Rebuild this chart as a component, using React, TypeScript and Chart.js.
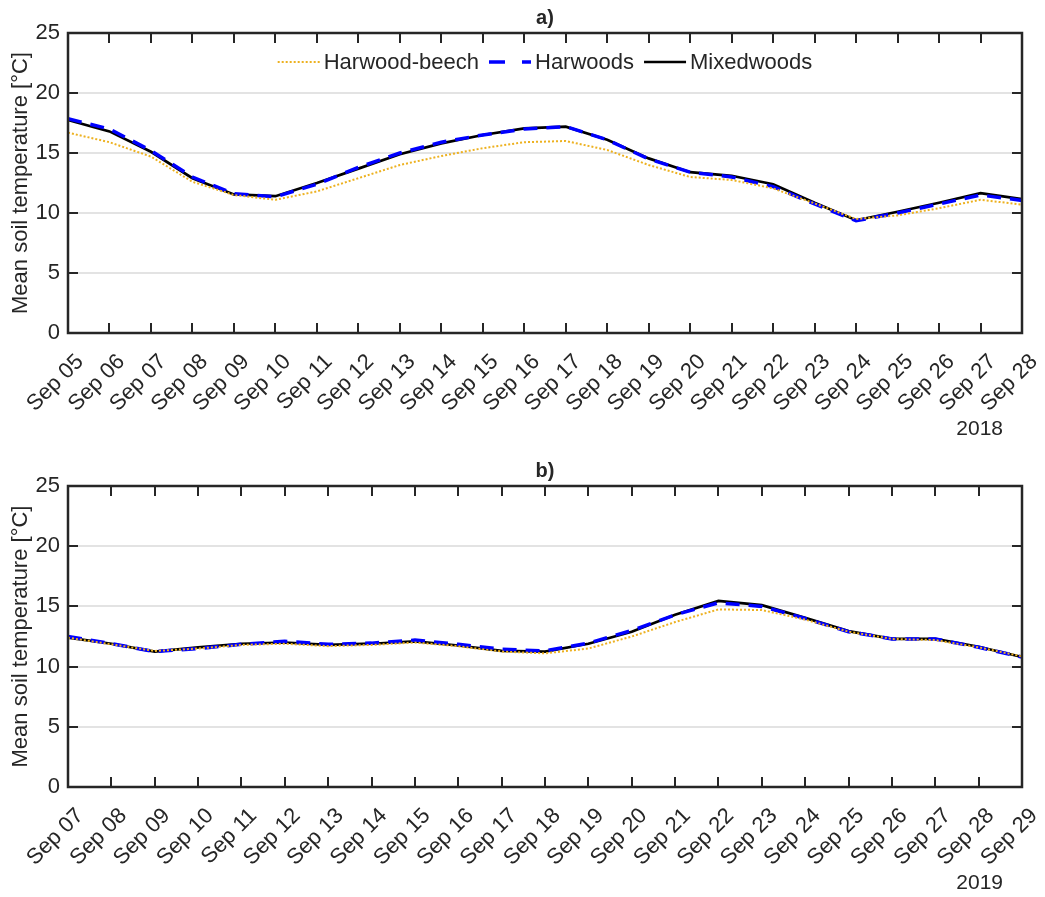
import React, { useEffect, useRef } from "react";
import { Chart, registerables } from "chart.js";

Chart.register(...registerables);

const labels2018 = ["Sep 05","Sep 06","Sep 07","Sep 08","Sep 09","Sep 10","Sep 11","Sep 12","Sep 13","Sep 14","Sep 15","Sep 16","Sep 17","Sep 18","Sep 19","Sep 20","Sep 21","Sep 22","Sep 23","Sep 24","Sep 25","Sep 26","Sep 27","Sep 28"];
const beech2018 = [16.7,15.9,14.7,12.6,11.5,11.1,11.8,12.9,14.0,14.75,15.4,15.9,16.0,15.25,14.0,13.0,12.75,12.05,10.8,9.5,9.8,10.4,11.1,10.7];
const hardwoods2018 = [17.85,17.0,15.2,13.0,11.6,11.35,12.4,13.8,15.0,15.9,16.5,17.0,17.2,16.1,14.5,13.4,13.0,12.2,10.75,9.35,10.0,10.75,11.5,11.05];
const mixed2018 = [17.75,16.8,15.1,12.9,11.55,11.4,12.5,13.7,14.9,15.8,16.5,17.05,17.2,16.1,14.55,13.4,13.1,12.4,10.85,9.4,10.1,10.85,11.65,11.15];

const labels2019 = ["Sep 07","Sep 08","Sep 09","Sep 10","Sep 11","Sep 12","Sep 13","Sep 14","Sep 15","Sep 16","Sep 17","Sep 18","Sep 19","Sep 20","Sep 21","Sep 22","Sep 23","Sep 24","Sep 25","Sep 26","Sep 27","Sep 28","Sep 29"];
const beech2019 = [12.4,11.85,11.3,11.5,11.8,11.9,11.7,11.8,12.0,11.7,11.25,11.1,11.5,12.5,13.7,14.75,14.7,13.9,12.9,12.3,12.2,11.6,10.85];
const hardwoods2019 = [12.5,11.9,11.25,11.5,11.85,12.1,11.85,11.95,12.2,11.85,11.45,11.3,11.95,13.0,14.3,15.3,15.0,14.0,12.9,12.3,12.3,11.6,10.8];
const mixed2019 = [12.4,11.9,11.25,11.6,11.9,12.0,11.8,11.9,12.1,11.75,11.3,11.25,11.9,12.9,14.3,15.45,15.1,14.05,12.95,12.3,12.3,11.65,10.8];

const yTicks = [0, 5, 10, 15, 20, 25];
const seriesNames = ["Harwood-beech", "Harwoods", "Mixedwoods"];

const FONT = "'Liberation Sans', Arial, Helvetica, sans-serif";
const TEXT = "#262626";
const AXIS = "#262626";
const ORANGE = "#EDB120";
const BLUE = "#0000FF";

function makeFramePlugin(title: string, year: string, showLegend: boolean) {
  return {
    id: "frame_" + title,
    afterDatasetsDraw(chart: any) {
      const ctx = chart.ctx;
      const { left, right, top, bottom } = chart.chartArea;
      const xs = chart.scales.x;
      const ys = chart.scales.y;
      ctx.save();
      ctx.strokeStyle = AXIS;
      ctx.lineWidth = 2;
      ctx.setLineDash([]);
      ctx.beginPath();
      for (let i = 0; i < xs.ticks.length; i++) {
        const x = Math.round(xs.getPixelForTick(i));
        ctx.moveTo(x, bottom);
        ctx.lineTo(x, bottom - 10);
        ctx.moveTo(x, top);
        ctx.lineTo(x, top + 10);
      }
      for (const v of yTicks) {
        const y = Math.round(ys.getPixelForValue(v));
        ctx.moveTo(left, y);
        ctx.lineTo(left + 10, y);
        ctx.moveTo(right, y);
        ctx.lineTo(right - 10, y);
      }
      ctx.stroke();
      ctx.lineWidth = 2.5;
      ctx.strokeRect(left, top, right - left, bottom - top);

      ctx.fillStyle = TEXT;
      ctx.font = "bold 20px " + FONT;
      ctx.textAlign = "center";
      ctx.textBaseline = "middle";
      ctx.fillText(title, (left + right) / 2, top - 15);

      ctx.font = "21px " + FONT;
      ctx.textAlign = "right";
      ctx.fillText(year, right - 19, bottom + 96);

      if (showLegend) {
        ctx.font = "22px " + FONT;
        const sample = 42;
        const gapText = 4;
        const gapItem = 10;
        const widths = seriesNames.map((n) => ctx.measureText(n).width);
        const total = widths.reduce((a, w) => a + sample + gapText + w, 0) + gapItem * (seriesNames.length - 1);
        let x = (left + right) / 2 - total / 2;
        const y = top + 29;
        const styles = [
          { color: ORANGE, dash: [2, 2], width: 2 },
          { color: BLUE, dash: [16, 17], width: 3.5 },
          { color: "#000000", dash: [], width: 2.5 },
        ];
        seriesNames.forEach((n, i) => {
          const s = styles[i];
          ctx.strokeStyle = s.color;
          ctx.lineWidth = s.width;
          ctx.setLineDash(s.dash);
          ctx.beginPath();
          ctx.moveTo(x, y);
          ctx.lineTo(x + sample, y);
          ctx.stroke();
          ctx.setLineDash([]);
          ctx.fillStyle = TEXT;
          ctx.textAlign = "left";
          ctx.textBaseline = "middle";
          ctx.fillText(n, x + sample + gapText, y + 1);
          x += sample + gapText + widths[i] + gapItem;
        });
      }
      ctx.restore();
    },
  };
}

function buildConfig(labels: string[], beech: number[], hard: number[], mixed: number[], padTop: number, xHeight: number, title: string, year: string, legend: boolean) {
  return {
    type: "line" as const,
    data: {
      labels,
      datasets: [
        { label: seriesNames[0], data: beech, borderColor: ORANGE, borderWidth: 2, borderDash: [2, 2], pointRadius: 0, tension: 0, fill: false },
        { label: seriesNames[1], data: hard, borderColor: BLUE, borderWidth: 3.5, borderDash: [14, 9], pointRadius: 0, tension: 0, fill: false },
        { label: seriesNames[2], data: mixed, borderColor: "#000000", borderWidth: 2.7, pointRadius: 0, tension: 0, fill: false },
      ],
    },
    options: {
      responsive: false,
      animation: false,
      layout: { padding: { top: padTop, right: 23, bottom: 0, left: 0 } },
      plugins: { legend: { display: false }, tooltip: { enabled: false }, title: { display: false } },
      scales: {
        x: {
          type: "category",
          offset: false,
          grid: { display: false, drawTicks: false },
          border: { display: false },
          ticks: {
            autoSkip: false,
            maxRotation: 45,
            minRotation: 45,
            padding: 16,
            labelOffset: 12,
            color: TEXT,
            font: { family: FONT, size: 22 },
          },
          afterFit(scale: any) {
            scale.height = xHeight;
            scale.paddingRight = 0;
            scale.paddingLeft = 0;
          },
        },
        y: {
          min: 0,
          max: 25,
          afterBuildTicks(scale: any) {
            scale.ticks = yTicks.map((v) => ({ value: v }));
          },
          grid: { color: "#e3e3e3", lineWidth: 2, drawTicks: false },
          border: { display: false },
          ticks: { padding: 8, color: TEXT, font: { family: FONT, size: 22 } },
          title: {
            display: true,
            text: "Mean soil temperature [°C]",
            color: TEXT,
            font: { family: FONT, size: 22 },
            padding: { top: 8, bottom: 0 },
          },
          afterFit(scale: any) {
            scale.width = 68;
          },
        },
      },
    },
    plugins: [makeFramePlugin(title, year, legend)],
  };
}

function ChartBox(props: { top: number; height: number; cfg: any }) {
  const ref = useRef<HTMLCanvasElement | null>(null);
  useEffect(() => {
    if (!ref.current) return;
    const chart = new Chart(ref.current, props.cfg);
    return () => chart.destroy();
  }, []);
  return (
    <canvas
      ref={ref}
      width={1045}
      height={props.height}
      style={{ position: "absolute", left: 0, top: props.top, width: 1045, height: props.height }}
    />
  );
}

export default function App() {
  const cfgA = buildConfig(labels2018, beech2018, hardwoods2018, mixed2018, 33, 117, "a)", "2018", true);
  const cfgB = buildConfig(labels2019, beech2019, hardwoods2019, mixed2019, 36, 110, "b)", "2019", false);
  return (
    <div style={{ position: "absolute", left: 0, top: 0, width: 1045, height: 897, background: "#ffffff" }}>
      <ChartBox top={0} height={450} cfg={cfgA} />
      <ChartBox top={450} height={447} cfg={cfgB} />
    </div>
  );
}
